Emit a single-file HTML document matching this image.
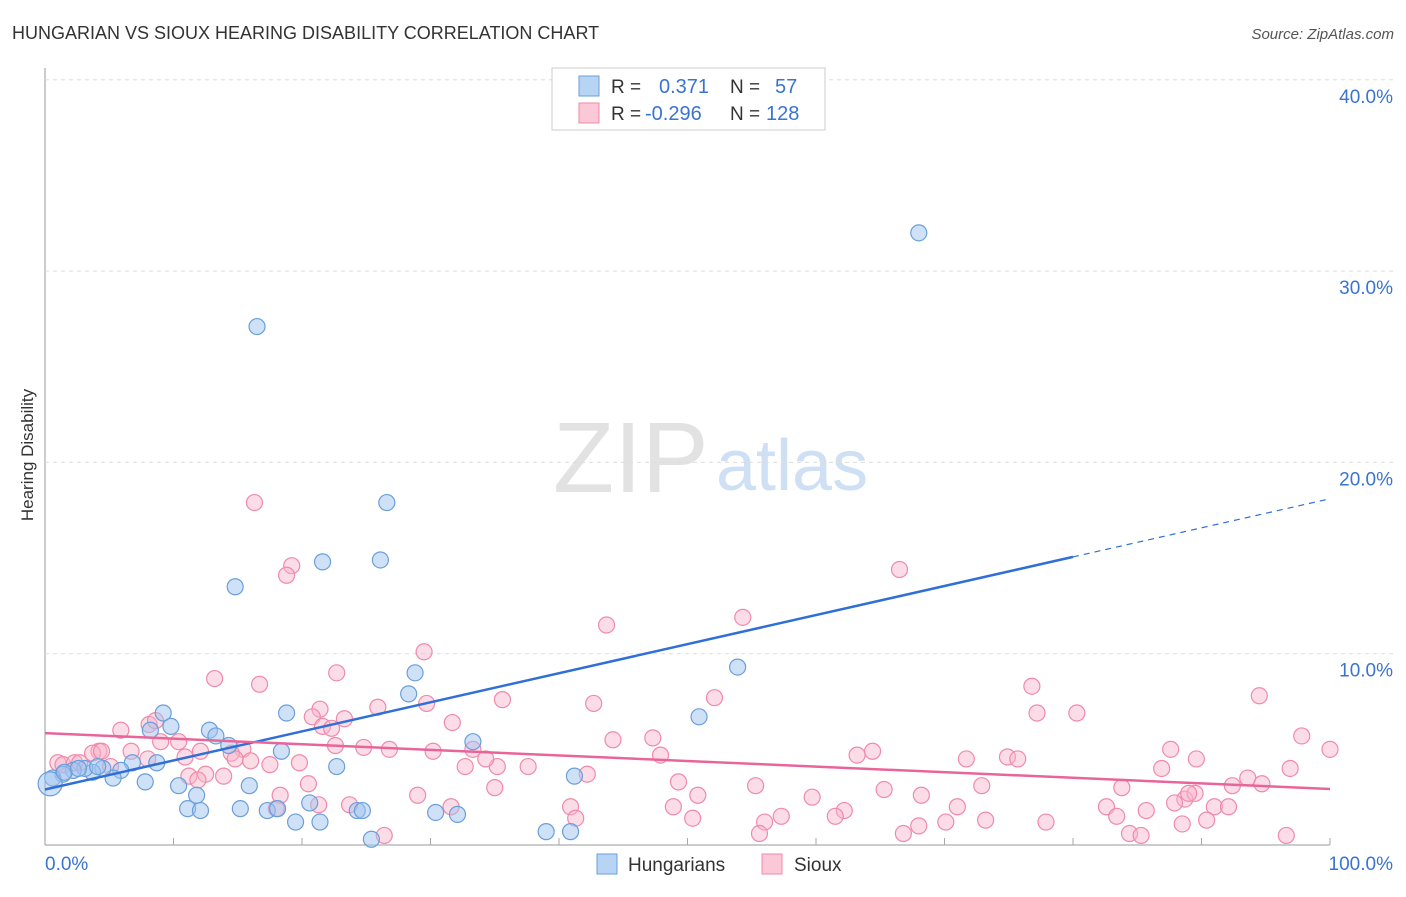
<!DOCTYPE html>
<html><head><meta charset="utf-8"><style>
body{margin:0;background:#fff;font-family:"Liberation Sans",sans-serif;}
svg text{font-family:"Liberation Sans",sans-serif;}
</style></head><body>
<svg id="chart" width="1406" height="892">
<text x="12" y="39" font-size="18" fill="#333">HUNGARIAN VS SIOUX HEARING DISABILITY CORRELATION CHART</text>
<text x="1394" y="39" font-size="15" fill="#555" font-style="italic" text-anchor="end">Source: ZipAtlas.com</text>
<text x="553" y="492" font-size="100" fill="#e2e2e2" font-family="Liberation Serif">ZIP</text>
<text x="716" y="490" font-size="72" fill="#cfe0f5">atlas</text>
<text x="33" y="455" font-size="17" fill="#333" transform="rotate(-90 33 455)" text-anchor="middle">Hearing Disability</text>
<g id="grid"></g><g id="pts"></g><g id="lines"></g>
<g>
<rect x="552" y="68" width="273" height="62" fill="#fff" stroke="#ccc"/>
<rect x="579" y="76" width="20" height="20" fill="#b8d4f5" stroke="#6a9fdb"/>
<rect x="579" y="103" width="20" height="20" fill="#fbc8d8" stroke="#f08aaa"/>
<text x="611" y="93" font-size="19" fill="#333">R =</text><text x="659" y="93" font-size="20" fill="#3a74d0">0.371</text>
<text x="730" y="93" font-size="19" fill="#333">N =</text><text x="775" y="93" font-size="20" fill="#3a74d0">57</text>
<text x="611" y="120" font-size="19" fill="#333">R =</text><text x="645" y="120" font-size="20" fill="#3a74d0">-0.296</text>
<text x="730" y="120" font-size="19" fill="#333">N =</text><text x="766" y="120" font-size="20" fill="#3a74d0">128</text>
</g>
<g>
<rect x="597" y="854" width="20" height="20" fill="#b8d4f5" stroke="#6a9fdb"/>
<text x="628" y="871" font-size="19" fill="#333">Hungarians</text>
<rect x="762" y="854" width="20" height="20" fill="#fbc8d8" stroke="#f08aaa"/>
<text x="794" y="871" font-size="19" fill="#333">Sioux</text>
</g>
</svg>
<script>
const yTicks=[10,20,30,40];
const xTickLabels=["0.0%","100.0%"];
const blueX=[68.0,16.5,26.6,21.6,26.1,14.8,53.9,28.8,28.3,18.8,50.9,9.2,9.8,12.8,13.3,14.3,18.4,33.3,22.7,8.2,8.7,6.8,5.9,5.3,4.5,3.7,3.1,2.2,1.4,0.6,0.4,7.8,10.4,11.8,15.9,41.2,11.1,12.1,15.2,17.3,18.1,20.6,19.5,21.4,24.3,24.7,30.4,32.1,39.0,40.9,25.4,1.5,2.6,4.1];
const blueY=[32.0,27.1,17.9,14.8,14.9,13.5,9.3,9.0,7.9,6.9,6.7,6.9,6.2,6.0,5.7,5.2,4.9,5.4,4.1,6.0,4.3,4.3,3.9,3.5,4.0,3.8,4.0,3.9,3.7,3.5,3.2,3.3,3.1,2.6,3.1,3.6,1.9,1.8,1.9,1.8,1.9,2.2,1.2,1.2,1.8,1.8,1.7,1.6,0.7,0.7,0.3,3.8,4.0,4.1];
const pinkX=[16.3,19.2,18.8,66.5,54.3,43.7,29.5,22.7,13.2,16.7,76.8,94.5,52.1,35.6,42.7,29.7,21.4,25.9,80.3,77.2,20.8,23.3,31.7,21.6,22.3,5.9,8.1,8.6,10.4,9.0,97.8,44.2,47.3,100.0,87.6,22.6,24.8,26.8,30.2,33.3,4.2,3.7,4.4,6.7,12.1,15.4,14.5,64.4,63.2,47.9,74.9,75.7,71.7,89.6,1.0,1.4,2.3,2.7,5.1,8.0,10.9,14.8,16.0,17.5,19.8,32.7,35.2,34.3,37.6,86.9,96.9,12.5,13.9,11.2,11.9,20.5,35.0,42.2,49.3,55.3,72.9,83.8,93.6,92.4,88.7,91.0,94.7,89.5,89.0,29.0,18.3,18.0,21.3,23.7,31.6,40.9,48.9,50.8,59.7,62.2,65.3,68.2,71.0,82.6,85.7,87.9,92.1,41.3,57.3,56.0,61.5,70.1,73.2,83.4,77.9,88.5,90.4,50.4,55.6,66.8,68.0,84.4,85.3,96.6,26.4];
const pinkY=[17.9,14.6,14.1,14.4,11.9,11.5,10.1,9.0,8.7,8.4,8.3,7.8,7.7,7.6,7.4,7.4,7.1,7.2,6.9,6.9,6.7,6.6,6.4,6.2,6.1,6.0,6.3,6.5,5.4,5.4,5.7,5.5,5.6,5.0,5.0,5.2,5.1,5.0,4.9,5.0,4.9,4.8,4.9,4.9,4.9,5.0,4.8,4.9,4.7,4.7,4.6,4.5,4.5,4.5,4.3,4.2,4.3,4.3,4.1,4.5,4.6,4.5,4.4,4.2,4.3,4.1,4.1,4.5,4.1,4.0,4.0,3.7,3.6,3.6,3.4,3.2,3.0,3.7,3.3,3.1,3.1,3.0,3.5,3.1,2.4,2.0,3.2,2.7,2.7,2.6,2.6,1.9,2.1,2.1,2.0,2.0,2.0,2.6,2.5,1.8,2.9,2.6,2.0,2.0,1.8,2.2,2.0,1.4,1.5,1.2,1.5,1.2,1.3,1.5,1.2,1.1,1.3,1.4,0.6,0.6,1.0,0.6,0.5,0.5,0.5,0.8];
const blueFit=[2.9,0.152];
const pinkFit=[5.85,-0.0292];
const X=v=>45+v*12.85, Y=v=>845-v*19.13;
const NS='http://www.w3.org/2000/svg';
function mk(t,a,p){const e=document.createElementNS(NS,t);for(const k in a)e.setAttribute(k,a[k]);p.appendChild(e);return e;}
const grid=document.getElementById('grid');
const ax=mk('line',{x1:45,y1:68,x2:45,y2:845,stroke:'#999'},grid);


const bx=mk('line',{x1:45,y1:845,x2:1330,y2:845,stroke:'#999'},grid);


[10,20,30,40,50,60,70,80,90,100].forEach(v=>{const t=mk('line',{x1:X(v),y1:845,x2:X(v),y2:838,stroke:'#aaa'},grid);

});
yTicks.forEach(v=>{const g=mk('line',{x1:45,y1:Y(v),x2:1394,y2:Y(v),stroke:'#ddd','stroke-dasharray':'4,4'},grid);


const t=mk('text',{x:1393,y:Y(v)+23,'font-size':19,fill:'#3a74d0','text-anchor':'end'},grid);t.textContent=v.toFixed(1)+'%';

});
const l0=mk('text',{x:45,y:870,'font-size':19,fill:'#3a74d0'},grid);l0.textContent=xTickLabels[0];


const l1=mk('text',{x:1393,y:870,'font-size':19,fill:'#3a74d0','text-anchor':'end'},grid);l1.textContent=xTickLabels[1];


const pts=document.getElementById('pts');
pinkX.forEach((x,i)=>{if(pinkY[i]===undefined)return;const c=mk('circle',{cx:X(x),cy:Y(pinkY[i]),r:8,fill:'rgba(248,180,202,0.45)',stroke:'#f08aaa','stroke-width':1.2},pts);

});
blueX.forEach((x,i)=>{const c=mk('circle',{cx:X(x),cy:Y(blueY[i]),r:(i==30?12:8),fill:'rgba(160,196,240,0.5)',stroke:'#6a9fdb','stroke-width':1.2},pts);

});
const ln=document.getElementById('lines');
const b1=mk('line',{x1:X(0),y1:Y(blueFit[0]),x2:X(80),y2:Y(blueFit[0]+80*blueFit[1]),stroke:'#2f6fd6','stroke-width':2.5},ln);


const b2=mk('line',{x1:X(80),y1:Y(blueFit[0]+80*blueFit[1]),x2:X(100),y2:Y(blueFit[0]+100*blueFit[1]),stroke:'#2f6fd6','stroke-width':1.2,'stroke-dasharray':'6,5'},ln);


const p1=mk('line',{x1:X(0),y1:Y(pinkFit[0]),x2:X(100),y2:Y(pinkFit[0]+100*pinkFit[1]),stroke:'#e8659a','stroke-width':2.5},ln);


</script>
</body></html>
